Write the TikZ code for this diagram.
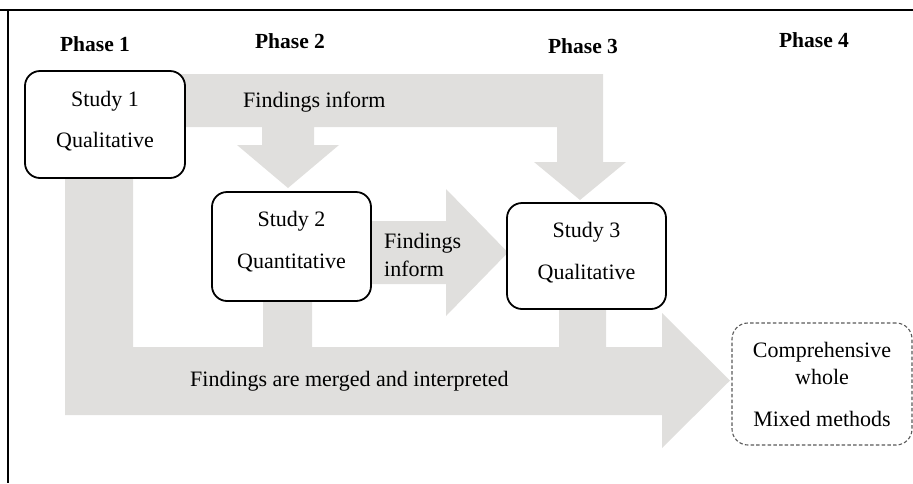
\documentclass[tikz,border=0pt]{standalone}
\usepackage{fontspec}
\setmainfont{Liberation Serif}
\definecolor{band}{RGB}{224,223,221}
\definecolor{dashgray}{RGB}{90,90,90}
\begin{document}
\begin{tikzpicture}[x=1pt,y=-1pt,
  txt/.style={inner sep=0pt,font=\fontsize{22}{26}\selectfont},
  phase/.style={txt,font=\fontsize{21.5}{26}\selectfont\bfseries,anchor=base},
  studybox/.style={draw=black,line width=1.8pt,rounded corners=15pt,fill=white,inner sep=0pt},
  wholebox/.style={draw=dashgray,line width=1.1pt,dash pattern=on 3.5pt off 2.2pt,rounded corners=16pt,fill=white,inner sep=0pt},
  bandfill/.style={fill=band,draw=none}]
\useasboundingbox (0,0) rectangle (913,483);
% frame (partial)
\draw[line width=2pt] (0,10) -- (913,10);
\draw[line width=2pt] (8,9) -- (8,483);
% top gray arrows
\fill[band] (150,74) -- (603,74) -- (603,162) -- (626,162) -- (580,200) -- (534,162) -- (557,162) -- (557,127)
  -- (314,127) -- (314,145) -- (339,145) -- (288,188) -- (237,145) -- (262,145) -- (262,127) -- (150,127) -- cycle;
% middle arrow
\fill[band] (360,221) -- (446,221) -- (446,189) -- (508,252.5) -- (446,316) -- (446,284) -- (360,284) -- cycle;
% bottom arrow
\fill[band] (65,150) -- (133,150) -- (133,347) -- (263,347) -- (263,290) -- (312,290) -- (312,347) -- (559,347)
  -- (559,300) -- (606,300) -- (606,347) -- (662,347) -- (662,313) -- (730,380.5) -- (662,448) -- (662,415) -- (65,415) -- cycle;
% phases
\node[phase] (p1) at (95,51) {Phase 1};
\node[phase] (p2) at (290,48) {Phase 2};
\node[phase] (p3) at (583,53) {Phase 3};
\node[phase] (p4) at (814,47) {Phase 4};
% boxes
\node[studybox,minimum width=160pt,minimum height=107pt] (s1) at (105,124.5) {};
\node[studybox,minimum width=159pt,minimum height=109pt] (s2) at (291.5,246.5) {};
\node[studybox,minimum width=159pt,minimum height=106pt] (s3) at (586.5,256) {};
\node[wholebox,minimum width=180pt,minimum height=122pt] (cw) at (822,384) {};
% box texts
\node[txt,anchor=base] (s1a) at (105,106) {Study 1};
\node[txt,anchor=base] (s1b) at (105,147) {Qualitative};
\node[txt,anchor=base] (s2a) at (291.5,226) {Study 2};
\node[txt,anchor=base] (s2b) at (291.5,268) {Quantitative};
\node[txt,anchor=base] (s3a) at (586.5,237) {Study 3};
\node[txt,anchor=base] (s3b) at (586.5,279) {Qualitative};
\node[txt,anchor=base] (cwa) at (822,357) {Comprehensive};
\node[txt,anchor=base] (cwb) at (822,384) {whole};
\node[txt,anchor=base] (cwc) at (822,426) {Mixed methods};
% arrow labels
\node[txt,anchor=base west] (f1) at (243,107) {Findings inform};
\node[txt,anchor=base west] (f2a) at (384,248) {Findings};
\node[txt,anchor=base west] (f2b) at (384,276) {inform};
\node[txt,anchor=base west] (f3) at (190,386) {Findings are merged and interpreted};
\end{tikzpicture}
\end{document}
